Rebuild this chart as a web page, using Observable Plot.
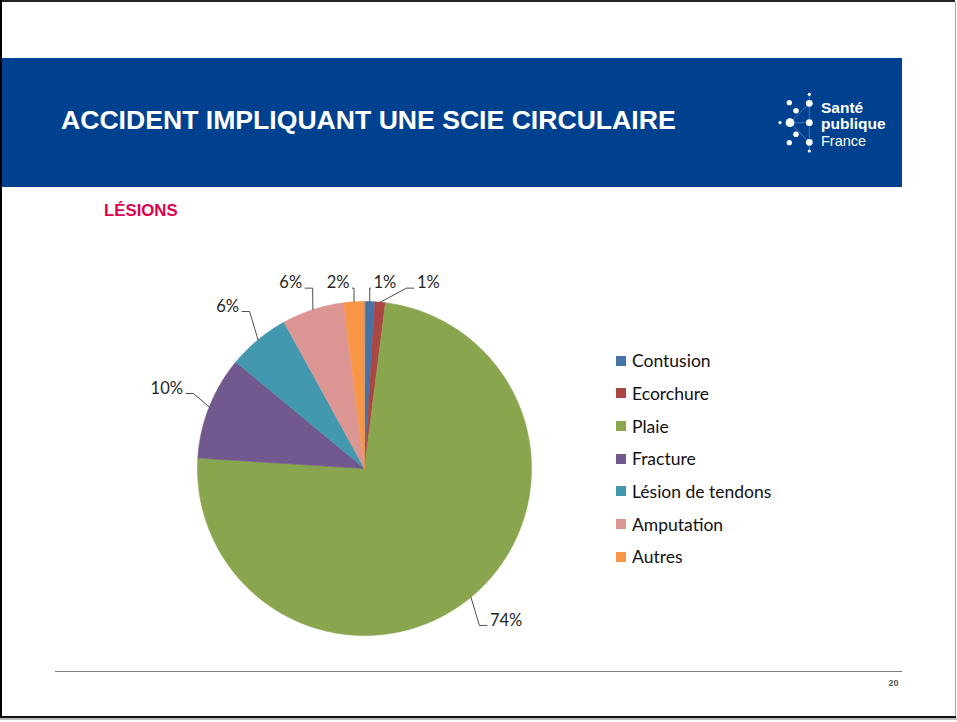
<!DOCTYPE html>
<html>
<head>
<meta charset="utf-8">
<script src="https://cdn.jsdelivr.net/npm/d3@7"></script>
<script src="https://cdn.jsdelivr.net/npm/@observablehq/plot@0.6"></script>
<style>
  body { margin: 0; background: #fff; }
  #page { position: relative; width: 957px; height: 722px; overflow: hidden; background: #fff; }
  .abs { position: absolute; }
  #legend { position: absolute; left: 616px; top: 344.3px; font-family: Lato, "Noto Sans", sans-serif; font-size: 17.5px; color: #111; }
  #legend .row { height: 32.7px; display: flex; align-items: center; white-space: nowrap; }
  #legend .sw { width: 10px; height: 10px; margin-right: 6px; flex: none; }
  #chart { position: absolute; left: 0; top: 0; }
</style>
</head>
<body>
<div id="page">
  <!-- slide frame -->
  <div class="abs" style="left:0;top:0;width:955px;height:2px;background:#222;"></div>
  <div class="abs" style="left:0;top:0;width:2px;height:718px;background:#000;"></div>
  <div class="abs" style="left:955px;top:2px;width:1px;height:716px;background:#aaa;"></div>
  <div class="abs" style="left:0;top:716px;width:956px;height:2px;background:#111;"></div>
  <div class="abs" style="left:0;top:718px;width:957px;height:2px;background:#bbb;"></div>

  <!-- title bar -->
  <div class="abs" style="left:2px;top:58px;width:900px;height:129px;background:#00418F;"></div>
  <div class="abs" id="title" style="left:61px;top:107px;font-family:'Liberation Sans',Arial,sans-serif;font-weight:bold;font-size:26.6px;line-height:26.6px;color:#fff;white-space:nowrap;">ACCIDENT IMPLIQUANT UNE SCIE CIRCULAIRE</div>

  <!-- logo -->
  <svg class="abs" style="left:770px;top:88px;" width="125" height="70" viewBox="770 88 125 70">
    <g stroke="#6f8fc4" stroke-width="0.8" opacity="0.8">
      <line x1="790" y1="122.7" x2="809.3" y2="103.3"/>
      <line x1="790" y1="122.7" x2="809.3" y2="142.3"/>
      <line x1="790" y1="122.7" x2="809.3" y2="122.7"/>
      <line x1="809.3" y1="94.3" x2="809.3" y2="151"/>
    </g>
    <g fill="#fff">
      <circle cx="809.3" cy="94.3" r="1.6"/>
      <circle cx="789.3" cy="102.7" r="2.6"/>
      <circle cx="809.3" cy="103.3" r="3.4"/>
      <circle cx="796" cy="110.7" r="2.8"/>
      <circle cx="780" cy="122.7" r="1.6"/>
      <circle cx="790" cy="122.7" r="4.4"/>
      <circle cx="809.3" cy="122.7" r="3.4"/>
      <circle cx="796" cy="134.3" r="2.8"/>
      <circle cx="789.3" cy="142.7" r="2.6"/>
      <circle cx="809.3" cy="142.3" r="3.4"/>
      <circle cx="809.3" cy="151" r="1.6"/>
    </g>
    <g font-family="'Liberation Sans',Arial,sans-serif" fill="#fff">
      <text x="821" y="112.7" font-size="15.5" font-weight="bold">Santé</text>
      <text x="821" y="128.5" font-size="15.5" font-weight="bold">publique</text>
      <text x="821" y="145.7" font-size="14.5">France</text>
    </g>
  </svg>

  <!-- subtitle -->
  <div class="abs" style="left:104px;top:203.3px;font-family:'Liberation Sans',Arial,sans-serif;font-weight:bold;font-size:16.8px;line-height:16.8px;color:#E0004D;">LÉSIONS</div>

  <!-- footer -->
  <div class="abs" style="left:55px;top:671px;width:847px;height:1px;background:#7f7f7f;"></div>
  <div class="abs" style="left:880px;width:18.5px;text-align:right;top:679px;font-family:'Liberation Sans',Arial,sans-serif;font-weight:bold;font-size:9px;line-height:9px;color:#595959;">20</div>

  <div id="chart"></div>
  <div id="legend"></div>
</div>
<script>
// ---- data ----
const categories = ["Contusion", "Ecorchure", "Plaie", "Fracture", "Lésion de tendons", "Amputation", "Autres"];
const values = [1, 1, 74, 10, 6, 6, 2];
const valueLabels = ["1%", "1%", "74%", "10%", "6%", "6%", "2%"];
const colors = ["#4572A7", "#AA4643", "#89A54E", "#71588F", "#4198AF", "#DB9694", "#F79646"];

// ---- geometry derived from data (unit circle, clockwise from 12 o'clock) ----
const arcs = d3.pie().sort(null).value(d => d)(values);
const slicePts = [];
arcs.forEach((a, i) => {
  const cat = categories[i];
  const n = Math.max(3, Math.ceil((a.endAngle - a.startAngle) / (Math.PI / 360)));
  slicePts.push({cat, x: 0, y: 0});
  for (let k = 0; k <= n; k++) {
    const t = a.startAngle + (a.endAngle - a.startAngle) * k / n;
    slicePts.push({cat, x: Math.sin(t), y: Math.cos(t)});
  }
});

// label layout
const RX = 1.15, RY = 1.22;
const labs = arcs.map((a, i) => {
  const m = (a.startAngle + a.endAngle) / 2;
  const ex = Math.sin(m), ey = Math.cos(m);
  return {i, ex, ey, lx: ex * RX, ly: ey * RY, side: ex >= 0 ? "right" : "left", text: valueLabels[i]};
});
for (const l of labs) if (l.ly > 1.08) l.ly = 1.08;
const rightTop = labs.filter(l => l.side === "right" && l.ly >= 1.0).sort((a, b) => a.lx - b.lx);
for (let k = 1; k < rightTop.length; k++) rightTop[k].lx = Math.max(rightTop[k].lx, rightTop[k - 1].lx + 0.26);
const leftTop = labs.filter(l => l.side === "left" && l.ly >= 1.0).sort((a, b) => b.lx - a.lx);
for (let k = 1; k < leftTop.length; k++) leftTop[k].lx = Math.min(leftTop[k].lx, leftTop[k - 1].lx - 0.26);

const leaderPts = [];
labs.forEach(l => {
  const s = l.side === "right" ? 1 : -1;
  const h = Math.min(0.045, Math.abs(l.lx - l.ex));
  leaderPts.push({k: l.i, x: l.ex, y: l.ey});
  leaderPts.push({k: l.i, x: l.lx - s * h, y: l.ly});
  leaderPts.push({k: l.i, x: l.lx, y: l.ly});
});

const chart = Plot.plot({
  width: 957,
  height: 722,
  marginLeft: 197,
  marginRight: 426,
  marginTop: 301,
  marginBottom: 87,
  x: {domain: [-1, 1], axis: null},
  y: {domain: [-1, 1], axis: null},
  color: {domain: categories, range: colors},
  style: {background: "transparent", overflow: "visible"},
  marks: [
    Plot.line(slicePts, {x: "x", y: "y", z: "cat", fill: "cat", stroke: "cat", strokeWidth: 0.6, curve: "linear-closed"}),
    Plot.line(leaderPts, {x: "x", y: "y", z: "k", stroke: "#3a3a3a", strokeWidth: 0.9}),
    Plot.text(labs.filter(l => l.side === "right"), {x: "lx", y: "ly", text: "text", textAnchor: "start", dx: 3, dy: -5, fontSize: 16.5, fontFamily: "Lato, 'Noto Sans', sans-serif", fill: "#262626"}),
    Plot.text(labs.filter(l => l.side === "left"), {x: "lx", y: "ly", text: "text", textAnchor: "end", dx: -3, dy: -5, fontSize: 16.5, fontFamily: "Lato, 'Noto Sans', sans-serif", fill: "#262626"})
  ]
});
document.getElementById("chart").appendChild(chart);

// legend
const legend = document.getElementById("legend");
categories.forEach((c, i) => {
  const row = document.createElement("div");
  row.className = "row";
  const sw = document.createElement("span");
  sw.className = "sw";
  sw.style.background = colors[i];
  const tx = document.createElement("span");
  tx.textContent = c;
  row.appendChild(sw);
  row.appendChild(tx);
  legend.appendChild(row);
});
</script>
</body>
</html>
